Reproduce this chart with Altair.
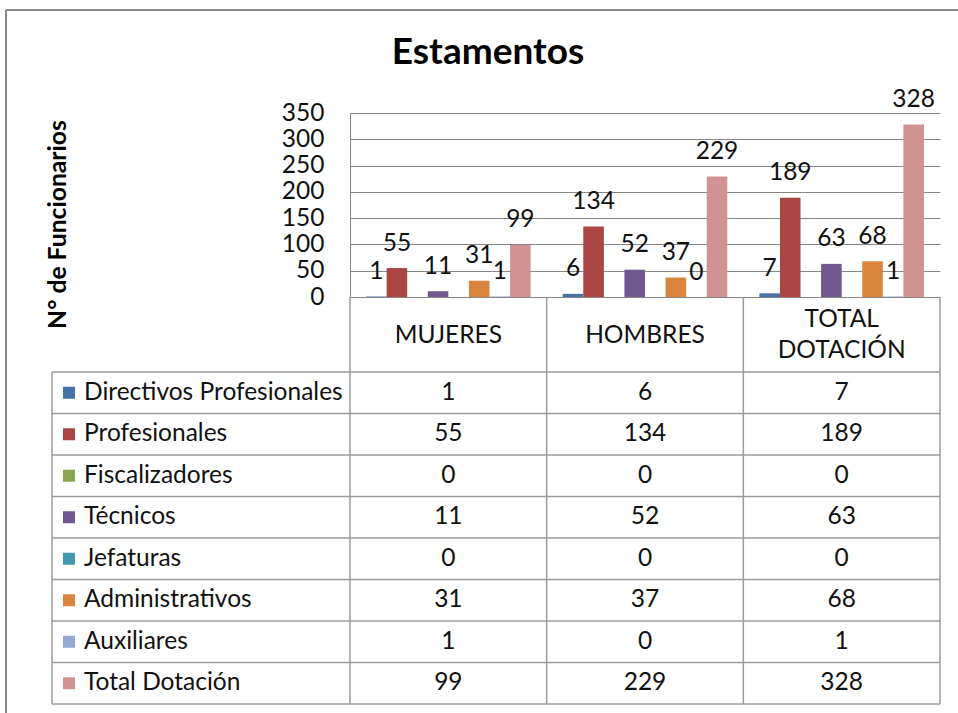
import altair as alt
import pandas as pd

# ---------------- data ----------------
categories = ["MUJERES", "HOMBRES", "TOTAL DOTACIÓN"]
series = [
    "Directivos Profesionales",
    "Profesionales",
    "Fiscalizadores",
    "Técnicos",
    "Jefaturas",
    "Administrativos",
    "Auxiliares",
    "Total Dotación",
]
mujeres = [1, 55, 0, 11, 0, 31, 1, 99]
hombres = [6, 134, 0, 52, 0, 37, 0, 229]
total_dotacion = [7, 189, 0, 63, 0, 68, 1, 328]
colors = ["#4672A8", "#AA4643", "#89A54E", "#71588F", "#4198AF", "#DB843D", "#93A9CF", "#D19392"]
hidden_labels = ["Fiscalizadores", "Jefaturas"]
y_ticks = [0, 50, 100, 150, 200, 250, 300, 350]

rows = []
for cat, vals in zip(categories, [mujeres, hombres, total_dotacion]):
    for s, v in zip(series, vals):
        rows.append({"cat": cat, "serie": s, "valor": v, "etiqueta": s not in hidden_labels})
df = pd.DataFrame(rows)
ser_df = pd.DataFrame({"serie": series})
cat_df = pd.DataFrame({"cat": categories})
one_df = pd.DataFrame({"k": [0]})

# header cell text: one row per text line, line index centred in the cell
head_rows = []
for cat in categories:
    words = cat.split(" ")
    n = len(words)
    for i, w in enumerate(words):
        head_rows.append({"cat": cat, "linea": w, "pos": i - (n - 1) / 2 + 0.5})
head_df = pd.DataFrame(head_rows)

# ---------------- style ----------------
FONT = "Lato"
FS = 24.5
TXT = "#111111"
GRID = "#878787"
TBL = "#9c9c9c"

W, H = 590, 184
ROW_TOP, ROW_BOTTOM = 259, 591
LEG_LEFT = -298

x_scale = alt.Scale(domain=categories, paddingInner=0, paddingOuter=0)
off_scale = alt.Scale(domain=series, paddingInner=0, paddingOuter=0.78)
y_scale = alt.Scale(domain=[0, 350], nice=False)
row_scale = alt.Scale(domain=series, range=[ROW_TOP, ROW_BOTTOM], paddingInner=0, paddingOuter=0)
line_scale = alt.Scale(domain=[0, 1], range=[207, 238], zero=False, nice=False)
color_scale = alt.Scale(domain=series, range=colors)

bars = alt.Chart(df).mark_bar().encode(
    x=alt.X(
        "cat:N",
        scale=x_scale,
        title=None,
        axis=alt.Axis(
            orient="bottom",
            domain=True,
            domainColor=GRID,
            ticks=False,
            labels=False,
        ),
    ),
    xOffset=alt.XOffset("serie:N", scale=off_scale),
    y=alt.Y(
        "valor:Q",
        scale=y_scale,
        axis=alt.Axis(
            values=y_ticks,
            grid=True,
            gridColor=GRID,
            domain=True,
            domainColor=GRID,
            ticks=False,
            labelPadding=26,
            labelFont=FONT,
            labelFontSize=FS,
            labelColor=TXT,
            title="N° de Funcionarios",
            titleFont=FONT,
            titleFontSize=24.7,
            titleFontWeight="bold",
            titleColor="#000000",
            titleX=-292,
            titleY=111,
            titleAlign="center",
            titleBaseline="middle",
        ),
    ),
    color=alt.Color("serie:N", scale=color_scale, legend=None),
)

bar_labels = alt.Chart(df).transform_filter("datum.etiqueta").mark_text(
    baseline="alphabetic", align="center", dy=-17.5, font=FONT, fontSize=FS, color=TXT
).encode(
    x=alt.X("cat:N", scale=x_scale, title=None),
    xOffset=alt.XOffset("serie:N", scale=off_scale),
    y=alt.Y("valor:Q", scale=y_scale, axis=None),
    text=alt.Text("valor:Q"),
)

header_text = alt.Chart(head_df).mark_text(
    align="center", baseline="middle", font=FONT, fontSize=FS, color=TXT
).encode(
    x=alt.X("cat:N", scale=x_scale, title=None),
    y=alt.Y("pos:Q", scale=line_scale, axis=None),
    text="linea:N",
)

h_rules = alt.Chart(ser_df).mark_rule(color=TBL, strokeWidth=1.5).encode(
    y=alt.Y("serie:N", scale=row_scale, bandPosition=0, axis=None),
    x=alt.value(LEG_LEFT),
    x2=alt.value(W),
)
h_bottom = alt.Chart(ser_df).transform_filter(
    alt.datum.serie == series[-1]
).mark_rule(color=TBL, strokeWidth=1.5).encode(
    y=alt.Y("serie:N", scale=row_scale, bandPosition=1, axis=None),
    x=alt.value(LEG_LEFT),
    x2=alt.value(W),
)
v_rules = alt.Chart(cat_df).mark_rule(color=TBL, strokeWidth=1.5).encode(
    x=alt.X("cat:N", scale=x_scale, bandPosition=0, title=None),
    y=alt.value(H),
    y2=alt.value(ROW_BOTTOM),
)
v_last = alt.Chart(cat_df).transform_filter(
    alt.datum.cat == categories[-1]
).mark_rule(color=TBL, strokeWidth=1.5).encode(
    x=alt.X("cat:N", scale=x_scale, bandPosition=1, title=None),
    y=alt.value(H),
    y2=alt.value(ROW_BOTTOM),
)
v_legend = alt.Chart(one_df).mark_rule(color=TBL, strokeWidth=1.5).encode(
    x=alt.value(LEG_LEFT), y=alt.value(ROW_TOP), y2=alt.value(ROW_BOTTOM)
)

legend_squares = alt.Chart(ser_df).mark_square(size=144, filled=True, opacity=1).encode(
    x=alt.value(-281),
    y=alt.Y("serie:N", scale=row_scale, axis=None),
    color=alt.Color("serie:N", scale=color_scale, legend=None),
)
legend_text = alt.Chart(ser_df).mark_text(
    align="left", baseline="middle", font=FONT, fontSize=FS, color=TXT
).encode(
    x=alt.value(-266),
    y=alt.Y("serie:N", scale=row_scale, axis=None),
    text="serie:N",
)
cells = alt.Chart(df).mark_text(
    align="center", baseline="middle", font=FONT, fontSize=FS, color=TXT
).encode(
    x=alt.X("cat:N", scale=x_scale, title=None),
    y=alt.Y("serie:N", scale=row_scale, axis=None),
    text=alt.Text("valor:Q"),
)

frame_left = alt.Chart(one_df).mark_rule(color="#8a8a8a", strokeWidth=2).encode(
    x=alt.value(-344), y=alt.value(-103), y2=alt.value(600)
)
frame_top = alt.Chart(one_df).mark_rule(color="#8a8a8a", strokeWidth=2).encode(
    x=alt.value(-344), x2=alt.value(608), y=alt.value(-103)
)

chart = (
    alt.layer(
        bars,
        bar_labels,
        header_text,
        h_rules,
        h_bottom,
        v_rules,
        v_last,
        v_legend,
        legend_squares,
        legend_text,
        cells,
        frame_left,
        frame_top,
    )
    .resolve_scale(y="independent")
    .properties(
        width=W,
        height=H,
        padding={"left": 350, "top": 113, "right": 18, "bottom": 416},
        autosize=alt.AutoSizeParams(type="none"),
        title=alt.TitleParams(
            "Estamentos",
            font=FONT,
            fontSize=37,
            fontWeight="bold",
            color="#000000",
            anchor="middle",
            frame="group",
            dx=-157,
            dy=92,
            offset=0,
            baseline="alphabetic",
        ),
        background="#ffffff",
    )
    .configure_view(stroke=None)
)

chart.save("out.html", embed_options={"renderer": "svg", "actions": False})
